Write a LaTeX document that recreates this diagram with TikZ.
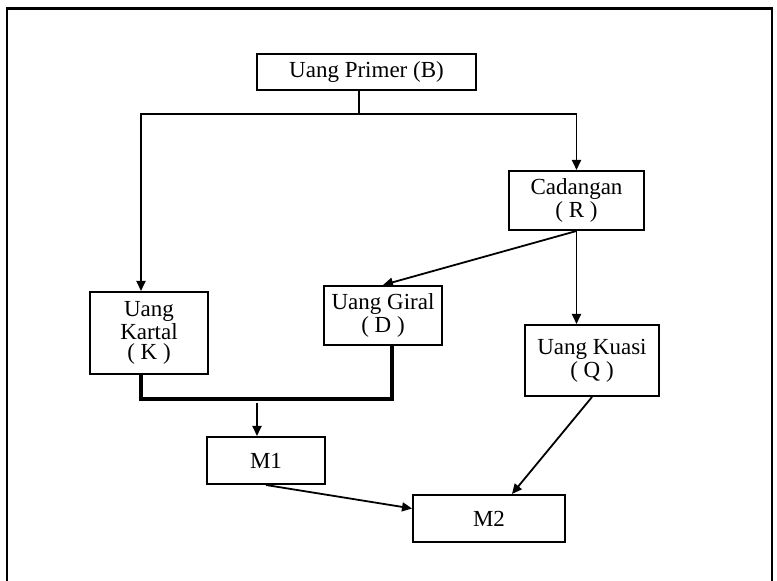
\documentclass[tikz,border=0pt]{standalone}
\usepackage{fontspec}
\setmainfont{Liberation Serif}
\usetikzlibrary{arrows.meta}

\begin{document}
\begin{tikzpicture}[
    x=0.5pt, y=-0.5pt,
    box/.style={draw, rectangle, line width=1pt, inner sep=0pt, align=center,
        font=\fontsize{11.5}{10.3}\selectfont},
    link/.style={line width=0.9pt},
    arrow/.style={-{Triangle[length=5pt,width=4.5pt]}, line width=0.9pt},
    thickline/.style={line width=1.9pt}
]
\useasboundingbox (0,0) rectangle (777,581);

% outer frame
\draw[line width=1.4pt] (7,581) -- (7,8.5) -- (772,8.5) -- (772,581);

\node[box, minimum width=109.5pt, minimum height=18pt] (primer) at (366.5,72) {Uang Primer (B)};
\node[box, minimum width=67.5pt, minimum height=29.5pt] (cadangan) at (576.5,200.5) {Cadangan\\( R )};
\node[box, minimum width=59pt, minimum height=41pt] (kartal) at (149,333) {Uang\\Kartal\\( K )};
\node[box, minimum width=59pt, minimum height=29.5pt] (giral) at (383,315.5) {Uang Giral\\( D )};
\node[box, minimum width=67pt, minimum height=35.5pt] (kuasi) at (592,360.5) {Uang Kuasi\\( Q )};
\node[box, minimum width=59pt, minimum height=23.5pt] (m1) at (266,460.5) {M1};
\node[box, minimum width=76pt, minimum height=23.5pt] (m2) at (489,518.5) {M2};

% split of primer money
\coordinate (fork) at (359,114);
\draw[link] (fork |- primer.south) -- (fork);
\draw[arrow] (fork) -| ([xshift=-4pt]kartal.north);
\draw[arrow] (fork) -| (cadangan.north);

% reserves
\draw[arrow] (cadangan.south) -- (giral.north);
\draw[arrow] (cadangan.south) -- (cadangan.south |- kuasi.north);

% K + D
\coordinate (join) at (141,399);
\draw[thickline] ([xshift=-4pt]kartal.south) -- (join) -| ([xshift=4.5pt]giral.south);
\coordinate (m1in) at (257,403);
\draw[arrow] (m1in) -- (m1in |- m1.north);

% to M2
\draw[arrow] (m1.south) -- ([yshift=5pt]m2.west);
\draw[arrow] (kuasi.south) -- ([xshift=11.5pt]m2.north);

\end{tikzpicture}
\end{document}
